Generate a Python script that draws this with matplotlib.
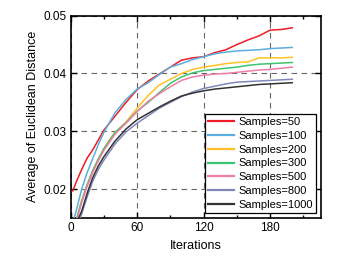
import matplotlib
matplotlib.use("Agg")
import matplotlib.pyplot as plt
from matplotlib.ticker import MultipleLocator

plt.rcParams['font.family'] = ['Liberation Sans', 'DejaVu Sans']

iterations = [2, 5, 10, 15, 20, 25, 30, 40, 50, 60, 70, 80, 90, 100, 110, 120,
              130, 140, 150, 160, 170, 180, 190, 200]

s50 = [0.0197, 0.0212, 0.0234, 0.0254, 0.0268, 0.0285, 0.0302, 0.0326, 0.0350, 0.0372,
       0.0387, 0.0399, 0.0411, 0.0423, 0.0427, 0.0429, 0.0436, 0.0441, 0.0450, 0.0458,
       0.0465, 0.0475, 0.0476, 0.0479]
s100 = [0.0143, 0.0162, 0.0200, 0.0229, 0.0253, 0.0277, 0.0298, 0.0332, 0.0355, 0.0373,
        0.0384, 0.0398, 0.0411, 0.0417, 0.0424, 0.0429, 0.0434, 0.0437, 0.0439, 0.0440,
        0.0441, 0.0443, 0.0444, 0.0445]
s200 = [0.0122, 0.0146, 0.0180, 0.0208, 0.0232, 0.0252, 0.0270, 0.0298, 0.0316, 0.0340,
        0.0362, 0.0380, 0.0390, 0.0400, 0.0407, 0.0411, 0.0414, 0.0417, 0.0419, 0.0420,
        0.0427, 0.0427, 0.0427, 0.0428]
s300 = [0.0122, 0.0146, 0.0180, 0.0208, 0.0232, 0.0252, 0.0270, 0.0298, 0.0315, 0.0335,
        0.0350, 0.0367, 0.0383, 0.0394, 0.0401, 0.0405, 0.0407, 0.0409, 0.0411, 0.0414,
        0.0416, 0.0417, 0.0418, 0.0419]
s500 = [0.0119, 0.0143, 0.0177, 0.0205, 0.0229, 0.0249, 0.0267, 0.0295, 0.0314, 0.0334,
        0.0352, 0.0365, 0.0377, 0.0388, 0.0394, 0.0397, 0.0399, 0.0400, 0.0402, 0.0404,
        0.0406, 0.0407, 0.0409, 0.0411]
s800 = [0.0110, 0.0135, 0.0157, 0.0187, 0.0214, 0.0234, 0.0250, 0.0278, 0.0299, 0.0314,
        0.0327, 0.0340, 0.0350, 0.0360, 0.0368, 0.0374, 0.0378, 0.0382, 0.0385, 0.0386,
        0.0387, 0.0388, 0.0389, 0.0390]
s1000 = [0.0115, 0.0140, 0.0162, 0.0193, 0.0220, 0.0240, 0.0256, 0.0283, 0.0304, 0.0320,
         0.0331, 0.0342, 0.0352, 0.0361, 0.0366, 0.0370, 0.0373, 0.0375, 0.0377, 0.0379,
         0.0381, 0.0382, 0.0383, 0.0384]

labels = ['Samples=50', 'Samples=100', 'Samples=200', 'Samples=300',
          'Samples=500', 'Samples=800', 'Samples=1000']
series = [s50, s100, s200, s300, s500, s800, s1000]
colors = ['#ee1c25', '#5aaee0', '#ffc125', '#3cc46e', '#f07ca8', '#8088bb', '#333333']

x_ticks = [0, 60, 120, 180]
y_ticks = [0.02, 0.03, 0.04, 0.05]
y_tick_labels = ['0.02', '0.03', '0.04', '0.05']

fig = plt.figure(figsize=(3.46, 2.65), dpi=100)
ax = fig.add_axes([0.204, 0.177, 0.724, 0.764])

for ys, c, lab in zip(series, colors, labels):
    ax.plot(iterations, ys, color=c, lw=1.1, label=lab, zorder=3)

ax.set_xlim(0, 226)
ax.set_ylim(0.015, 0.05)
ax.set_xticks(x_ticks)
ax.set_yticks(y_ticks)
ax.set_yticklabels(y_tick_labels)
ax.xaxis.set_minor_locator(MultipleLocator(30))
ax.tick_params(which='both', direction='in', top=True, right=True, labelsize=8.5,
               width=1, pad=3)
ax.tick_params(which='major', length=4)
ax.tick_params(which='minor', length=2.5)
ax.grid(True, which='major', color='#666666', linestyle=(0, (5, 4)), lw=0.8)
for sp in ax.spines.values():
    sp.set_linewidth(1.2)

ax.set_xlabel('Iterations', fontsize=9, labelpad=4)
ax.set_ylabel('Average of Euclidean Distance', fontsize=9, labelpad=3)

leg = ax.legend(loc='lower right', fontsize=8, frameon=True, fancybox=False,
                edgecolor='black', framealpha=1, handlelength=2.3,
                labelspacing=0.34, borderpad=0.3, handletextpad=0.4,
                borderaxespad=0.45)
leg.get_frame().set_linewidth(0.9)
for h in leg.get_lines():
    h.set_linewidth(1.6)
leg.set_zorder(5)

fig.savefig('out.png', dpi=100)
